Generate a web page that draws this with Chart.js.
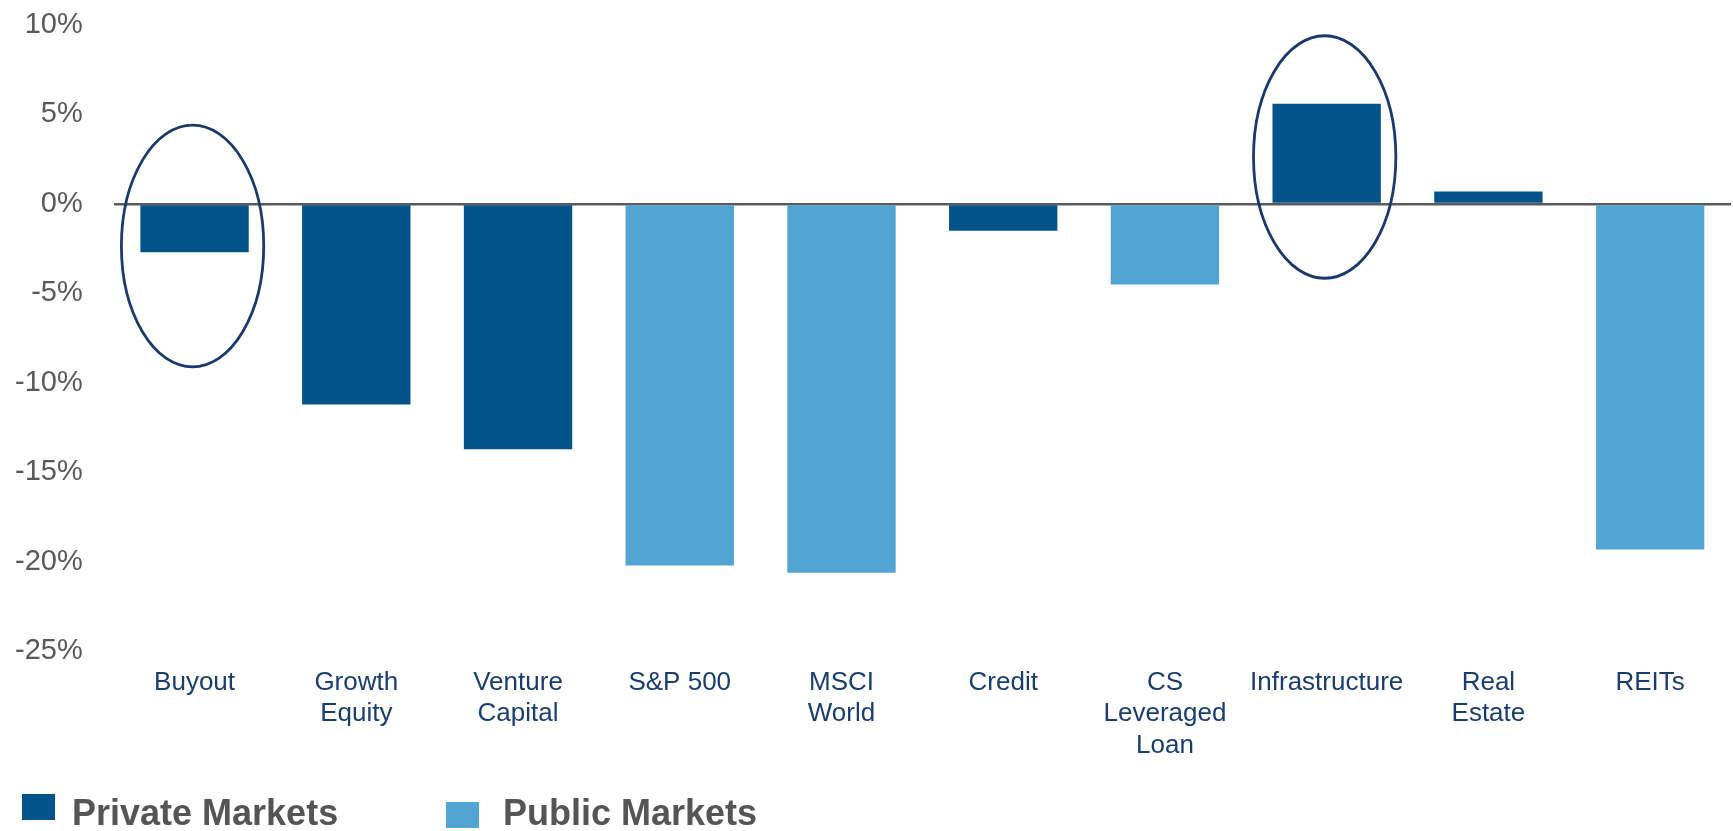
<!DOCTYPE html>
<html>
<head>
<meta charset="utf-8">
<script src="https://cdn.jsdelivr.net/npm/chart.js@4"></script>
<style>
    html, body { margin: 0; padding: 0; background: #fff; }
    #wrap { position: relative; width: 1733px; height: 831px; overflow: hidden; }
    #chart { position: absolute; left: 0; top: 0; }
    .legend-item { position: absolute; font-family: 'Liberation Sans', Arial, sans-serif; font-weight: bold; font-size: 36px; line-height: 36px; color: #555555; white-space: nowrap; }
    .legend-box { position: absolute; width: 33px; height: 26px; }
</style>
</head>
<body>
<div id="wrap">
    <canvas id="chart" width="1733" height="831"></canvas>
    <div class="legend-box" style="left:22px; top:794px; background:#02538A;"></div>
    <div class="legend-item" style="left:72px; top:795px;">Private Markets</div>
    <div class="legend-box" style="left:446px; top:802px; background:#52A5D3;"></div>
    <div class="legend-item" style="left:503px; top:795px;">Public Markets</div>
</div>
<script>
// categories (multi-line labels as arrays)
const categories = [
    'Buyout', ['Growth', 'Equity'], ['Venture', 'Capital'], 'S&P 500', ['MSCI', 'World'],
    'Credit', ['CS', 'Leveraged', 'Loan'], 'Infrastructure', ['Real', 'Estate'], 'REITs'
];
// change in %
const values = [-2.7, -11.2, -13.7, -20.2, -20.6, -1.5, -4.5, 5.6, 0.7, -19.3];
// which market each bar belongs to
const marketType = ['private', 'private', 'private', 'public', 'public', 'private', 'public', 'private', 'private', 'public'];
const yTicks = [10, 5, 0, -5, -10, -15, -20, -25];

// circled bars: index + vertical extent of the ring in %
const ringIndex = [0, 7];
const ringTop = [4.4, 9.4];
const ringBottom = [-9.1, -4.15];

const colors = { private: '#02538A', public: '#52A5D3' };
const FONT = "'Liberation Sans', Arial, sans-serif";

// ellipses around the highlighted bars
const ringPlugin = {
    id: 'rings',
    afterDatasetsDraw(chart) {
        const ctx = chart.ctx;
        const meta = chart.getDatasetMeta(0);
        const x = chart.scales.x, y = chart.scales.y;
        const step = x.getPixelForValue(1) - x.getPixelForValue(0);
        ctx.save();
        ctx.strokeStyle = '#1B3A6B';
        ctx.lineWidth = 2.8;
        ringIndex.forEach((idx, i) => {
            const bar = meta.data[idx];
            const top = y.getPixelForValue(ringTop[i]);
            const bottom = y.getPixelForValue(ringBottom[i]);
            ctx.beginPath();
            ctx.ellipse(bar.x - 2, (top + bottom) / 2, step * 0.44, (bottom - top) / 2, 0, 0, Math.PI * 2);
            ctx.stroke();
        });
        ctx.restore();
    }
};

new Chart(document.getElementById('chart'), {
    type: 'bar',
    data: {
        labels: categories,
        datasets: [{
            data: values,
            backgroundColor: marketType.map(t => colors[t]),
            borderWidth: 0,
            categoryPercentage: 1,
            barPercentage: 0.67
        }]
    },
    options: {
        responsive: false,
        animation: false,
        layout: { padding: { left: -16, right: 2, top: 25, bottom: 54 } },
        plugins: { legend: { display: false }, tooltip: { enabled: false } },
        scales: {
            x: {
                grid: { display: false, drawTicks: false },
                border: { display: false },
                ticks: {
                    color: '#1B3D6E',
                    font: { family: FONT, size: 26 },
                    padding: 16,
                    maxRotation: 0,
                    autoSkip: false
                }
            },
            y: {
                min: -25,
                max: 10,
                afterBuildTicks: axis => { axis.ticks = yTicks.map(v => ({ value: v })); },
                afterFit: axis => { axis.paddingTop = 0; axis.paddingBottom = 0; },
                grid: {
                    drawTicks: false,
                    color: c => c.tick && c.tick.value === 0 ? '#5a5a5a' : 'rgba(0,0,0,0)',
                    lineWidth: c => c.tick && c.tick.value === 0 ? 2.5 : 0
                },
                border: { display: false },
                ticks: {
                    color: '#595959',
                    font: { family: FONT, size: 29 },
                    padding: 31,
                    callback: v => v + '%'
                }
            }
        }
    },
    plugins: [ringPlugin]
});
</script>
</body>
</html>
